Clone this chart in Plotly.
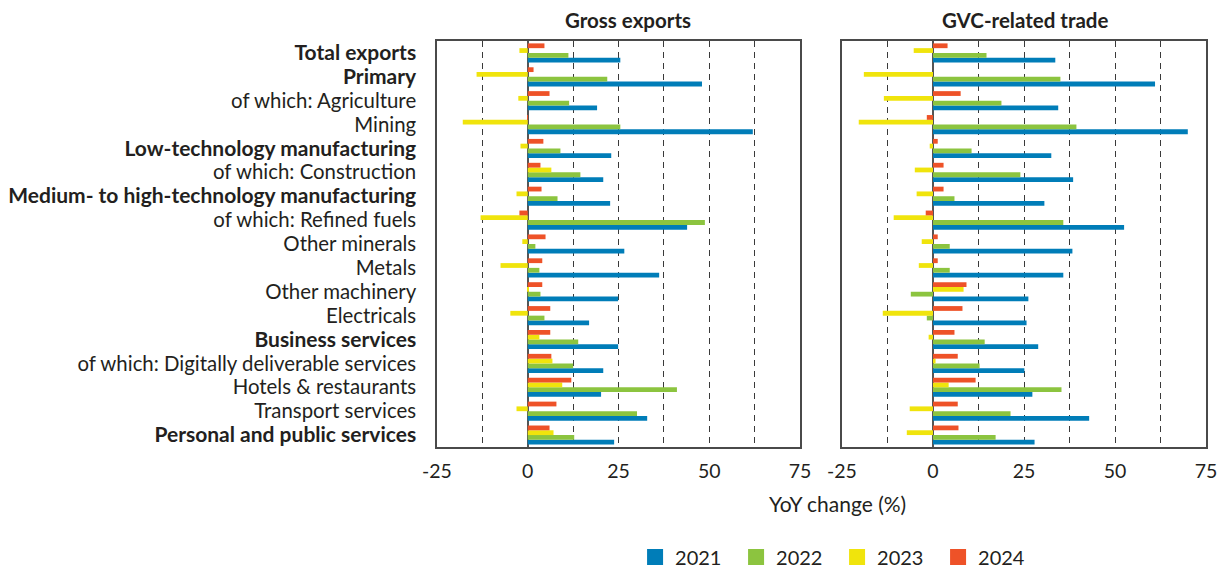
import plotly.graph_objects as go

categories = [
    "Total exports", "Primary", "of which: Agriculture", "Mining",
    "Low-technology manufacturing", "of which: Construction",
    "Medium- to high-technology manufacturing", "of which: Refined fuels",
    "Other minerals", "Metals", "Other machinery", "Electricals",
    "Business services", "of which: Digitally deliverable services",
    "Hotels & restaurants", "Transport services", "Personal and public services",
]
bold_categories = {
    "Total exports", "Primary", "Low-technology manufacturing",
    "Medium- to high-technology manufacturing", "Business services",
    "Personal and public services",
}
years = ["2021", "2022", "2023", "2024"]
colors = ["#007DB8", "#8CC43F", "#F0E40C", "#EE5228"]

gross_2021 = [25.5, 48.0, 19.1, 62.0, 23.0, 20.8, 22.7, 43.9, 26.6, 36.2, 24.9, 16.9, 24.9, 20.8, 20.2, 32.9, 23.8]
gross_2022 = [11.2, 21.9, 11.4, 25.5, 9.0, 14.5, 8.2, 48.8, 2.1, 3.2, 3.5, 4.6, 13.9, 12.5, 41.1, 30.1, 12.8]
gross_2023 = [-2.3, -14.1, -2.6, -17.9, -2.0, 6.5, -3.1, -13.0, -1.5, -7.5, 0.3, -4.8, 3.2, 6.8, 9.5, -3.1, 7.1]
gross_2024 = [4.6, 1.6, 6.0, -0.2, 4.3, 3.5, 3.8, -2.3, 4.9, 4.0, 4.0, 6.2, 6.2, 6.5, 12.0, 7.9, 6.0]

gvc_2021 = [33.6, 61.0, 34.4, 70.0, 32.5, 38.5, 30.6, 52.5, 38.3, 35.8, 26.2, 25.7, 28.9, 25.1, 27.3, 42.9, 27.9]
gvc_2022 = [14.7, 35.0, 18.8, 39.4, 10.6, 24.0, 5.9, 35.8, 4.6, 4.6, -6.1, -1.7, 14.2, 12.8, 35.3, 21.3, 17.2]
gvc_2023 = [-5.3, -19.0, -13.5, -20.4, -0.9, -5.0, -4.5, -10.8, -3.1, -3.9, 8.4, -13.8, -1.2, 0.7, 4.3, -6.4, -7.2]
gvc_2024 = [4.0, 0.0, 7.6, -1.7, 1.3, 2.9, 2.9, -2.0, 1.3, 1.3, 9.2, 8.1, 5.9, 6.8, 11.7, 6.8, 7.0]

x_tickvals = [-25, -12.5, 0, 12.5, 25, 37.5, 50, 62.5, 75]
x_ticktext = ["-25", "", "0", "", "25", "", "50", "", "75"]

panels = [
    ("x", "y", [gross_2021, gross_2022, gross_2023, gross_2024]),
    ("x2", "y2", [gvc_2021, gvc_2022, gvc_2023, gvc_2024]),
]

fig = go.Figure()
for pi, (xa, ya, series) in enumerate(panels):
    for yr, col, vals in zip(years, colors, series):
        fig.add_trace(go.Bar(
            x=vals, y=categories, orientation="h", name=yr,
            marker=dict(color=col, line=dict(width=0)),
            xaxis=xa, yaxis=ya, showlegend=False,
        ))

# legend entries with larger square swatches
for yr, col in zip(years, colors):
    fig.add_trace(go.Scatter(
        x=[None], y=[None], mode="markers", name=yr,
        marker=dict(symbol="square", size=16, color=col),
        xaxis="x", yaxis="y", showlegend=True,
    ))

font_family = "Lato, 'Open Sans', sans-serif"
text_color = "#231F20"

ticktext_y = [
    f"<b><span style='font-size:21px'>{c}</span></b>" if c in bold_categories else c
    for c in categories
]

xaxis_common = dict(
    range=[-25, 75], tickmode="array", tickvals=x_tickvals, ticktext=x_ticktext,
    showgrid=True, gridcolor="#3a3a3a", gridwidth=1.4, griddash="6px,5px",
    zeroline=True, zerolinecolor="#555555", zerolinewidth=2,
    showline=True, mirror=True, linecolor="#4a4a4a", linewidth=1.5,
    ticks="", ticklabelstandoff=6,
    tickfont=dict(size=19.5, color=text_color, family=font_family),
    fixedrange=True, automargin=False,
)
yaxis_common = dict(
    type="category", categoryorder="array", categoryarray=list(reversed(categories)),
    showgrid=False, showline=True, mirror=True, linecolor="#4a4a4a", linewidth=1.5,
    ticks="", automargin=False, fixedrange=True,
)

fig.update_layout(
    width=1222, height=573,
    margin=dict(l=0, r=0, t=41, b=126),
    paper_bgcolor="white", plot_bgcolor="white",
    barmode="group", bargap=0.2, bargroupgap=0,
    font=dict(family=font_family, color=text_color, size=19),
    xaxis=dict(domain=[437 / 1222, 800 / 1222], anchor="y", **xaxis_common),
    xaxis2=dict(domain=[842 / 1222, 1206 / 1222], anchor="y2", **xaxis_common),
    yaxis=dict(anchor="x", tickmode="array", tickvals=categories, ticktext=ticktext_y,
               tickfont=dict(size=20.4, color=text_color, family=font_family),
               ticklabelstandoff=15, **yaxis_common),
    yaxis2=dict(anchor="x2", showticklabels=False, **yaxis_common),
    legend=dict(orientation="h", x=0.685, xanchor="center",
                yref="container", y=(573 - 557) / 573, yanchor="middle",
                font=dict(size=20, color=text_color), traceorder="normal",
                itemwidth=30, entrywidth=56, itemsizing="trace"),
    annotations=[
        dict(text="<b>Gross exports</b>", x=628 / 1222, y=1.0, xref="paper", yref="paper",
             xanchor="center", yanchor="bottom", yshift=7, showarrow=False,
             font=dict(size=20.5, color=text_color)),
        dict(text="<b>GVC-related trade</b>", x=1025 / 1222, y=1.0, xref="paper", yref="paper",
             xanchor="center", yanchor="bottom", yshift=7, showarrow=False,
             font=dict(size=20.5, color=text_color)),
        dict(text="YoY change (%)", x=837 / 1222, y=(447 - 503) / 406, xref="paper", yref="paper",
             xanchor="center", yanchor="middle", showarrow=False,
             font=dict(size=21, color=text_color)),
    ],
)

fig.write_html("out.html", config={"displayModeBar": False},
               post_script="document.body.style.margin='0';")
